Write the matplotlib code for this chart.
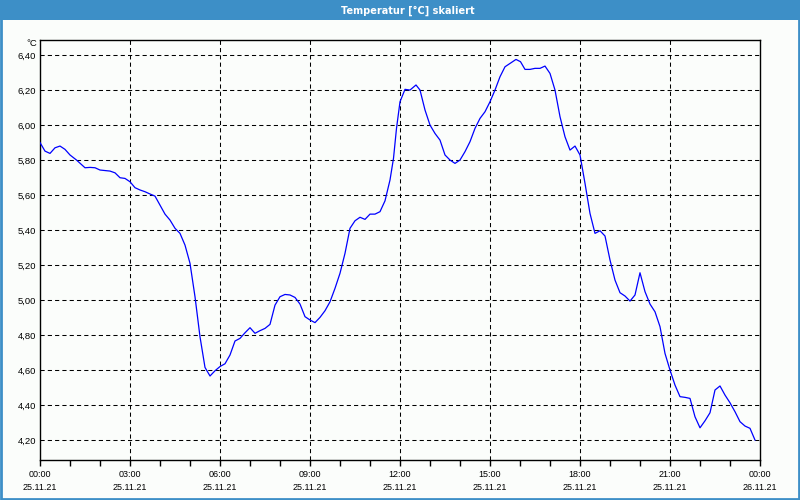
import matplotlib
matplotlib.use("Agg")
import matplotlib.pyplot as plt
from matplotlib.patches import Rectangle
from matplotlib.ticker import MultipleLocator, FixedLocator

# Messwerte (Minuten ab 25.11.21 00:00, Temperatur in °C)
minutes = [0, 10, 20, 30, 40, 50, 60, 73, 90, 100, 110, 120, 140, 150, 160, 170,
           180, 190, 200, 210, 220, 230, 240, 250, 260, 270, 280, 290, 300, 310,
           320, 330, 340, 350, 360, 370, 380, 390, 400, 410, 420, 430, 440, 450,
           460, 470, 480, 490, 500, 510, 520, 530, 540, 550, 560, 570, 580, 590,
           600, 610, 620, 630, 640, 650, 660, 670, 680, 690, 700, 707, 713, 720,
           730, 740, 752, 760, 770, 780, 790, 800, 810, 820, 830, 840, 850, 860,
           870, 880, 890, 900, 910, 920, 930, 940, 952, 961, 970, 980, 990, 1000,
           1010, 1020, 1030, 1040, 1050, 1060, 1070, 1080, 1090, 1100, 1110, 1120,
           1130, 1140, 1150, 1160, 1170, 1180, 1190, 1200, 1210, 1220, 1230, 1240,
           1250, 1260, 1270, 1280, 1290, 1300, 1310, 1320, 1330, 1340, 1350, 1360,
           1370, 1380, 1390, 1400, 1410, 1420, 1430]
temps = [5.90, 5.851, 5.838, 5.870, 5.880, 5.861, 5.829, 5.80, 5.756, 5.758, 5.756,
         5.743, 5.737, 5.727, 5.699, 5.695, 5.676, 5.642, 5.629, 5.619, 5.606, 5.594,
         5.543, 5.491, 5.457, 5.410, 5.381, 5.314, 5.210, 5.019, 4.790, 4.615, 4.566,
         4.596, 4.620, 4.636, 4.686, 4.766, 4.781, 4.813, 4.842, 4.810, 4.825, 4.838,
         4.861, 4.971, 5.019, 5.032, 5.029, 5.015, 4.977, 4.905, 4.886, 4.871, 4.901,
         4.939, 4.990, 5.067, 5.153, 5.267, 5.410, 5.453, 5.473, 5.461, 5.491, 5.491,
         5.505, 5.567, 5.686, 5.810, 5.981, 6.133, 6.204, 6.20, 6.229, 6.20, 6.086,
         6.00, 5.952, 5.914, 5.829, 5.80, 5.781, 5.80, 5.848, 5.905, 5.981, 6.038,
         6.076, 6.133, 6.20, 6.276, 6.333, 6.352, 6.375, 6.362, 6.318, 6.318, 6.324,
         6.324, 6.337, 6.295, 6.20, 6.048, 5.933, 5.857, 5.880, 5.829, 5.667, 5.495,
         5.381, 5.396, 5.366, 5.229, 5.114, 5.042, 5.023, 4.994, 5.029, 5.156, 5.048,
         4.977, 4.933, 4.848, 4.695, 4.60, 4.514, 4.448, 4.444, 4.438, 4.333, 4.270,
         4.310, 4.356, 4.486, 4.509, 4.457, 4.413, 4.362, 4.305, 4.280, 4.267, 4.20]

x_ticks = [0, 180, 360, 540, 720, 900, 1080, 1260, 1440]
x_labels = ["00:00\n25.11.21", "03:00\n25.11.21", "06:00\n25.11.21", "09:00\n25.11.21",
            "12:00\n25.11.21", "15:00\n25.11.21", "18:00\n25.11.21", "21:00\n25.11.21",
            "00:00\n26.11.21"]
y_ticks = [4.2, 4.4, 4.6, 4.8, 5.0, 5.2, 5.4, 5.6, 5.8, 6.0, 6.2, 6.4]

title = "Temperatur [°C] skaliert"
blue_bar = "#3d8fc7"
dash = (0, (4, 3))

plt.rcParams['font.family'] = ['Liberation Sans', 'DejaVu Sans']

fig = plt.figure(figsize=(8, 5), dpi=100, facecolor="#fbfdfb")

# Titelleiste und Rahmen
fig.patches.append(Rectangle((0, 0.96), 1, 0.04, transform=fig.transFigure,
                             facecolor=blue_bar, edgecolor="none", zorder=0))
fig.patches.append(Rectangle((0.001, 0.002), 0.998, 0.996, transform=fig.transFigure,
                             facecolor="none", edgecolor=blue_bar, linewidth=2, zorder=0))
fig.text(0.51, 0.979, title, color="white", fontsize=7, fontweight="bold",
         ha="center", va="center", family=["DejaVu Sans"])

ax = fig.add_axes([0.05, 0.08, 0.90, 0.84])
ax.set_facecolor("#fbfdfb")
ax.plot(minutes, temps, color="#0000ff", linewidth=0.9, zorder=3)

ax.set_xlim(0, 1440)
ax.set_ylim(4.086, 6.486)

ax.xaxis.set_major_locator(FixedLocator(x_ticks))
ax.set_xticklabels(x_labels)
ax.xaxis.set_minor_locator(MultipleLocator(60))
ax.tick_params(axis="x", which="both", direction="out", length=4, width=1,
               labelsize=6.5, pad=3.5, colors="black")
for lab in ax.get_xticklabels():
    lab.set_linespacing(1.55)

ax.set_yticks(y_ticks)
ax.set_yticklabels([f"{v:.2f}".replace(".", ",") for v in y_ticks])
ax.tick_params(axis="y", length=0, labelsize=6.8, pad=3)

# gestricheltes Raster, nur innen
for v in y_ticks:
    ax.axhline(v, color="black", linewidth=0.75, linestyle=dash, zorder=1)
for t in x_ticks[1:-1]:
    ax.axvline(t, color="black", linewidth=0.75, linestyle=dash, zorder=1)

for s in ax.spines.values():
    s.set_color("black")
    s.set_linewidth(1)

fig.text(0.046, 0.914, "°C", fontsize=6.8, ha="right", va="center")

fig.savefig("out.png", dpi=100, facecolor=fig.get_facecolor())
